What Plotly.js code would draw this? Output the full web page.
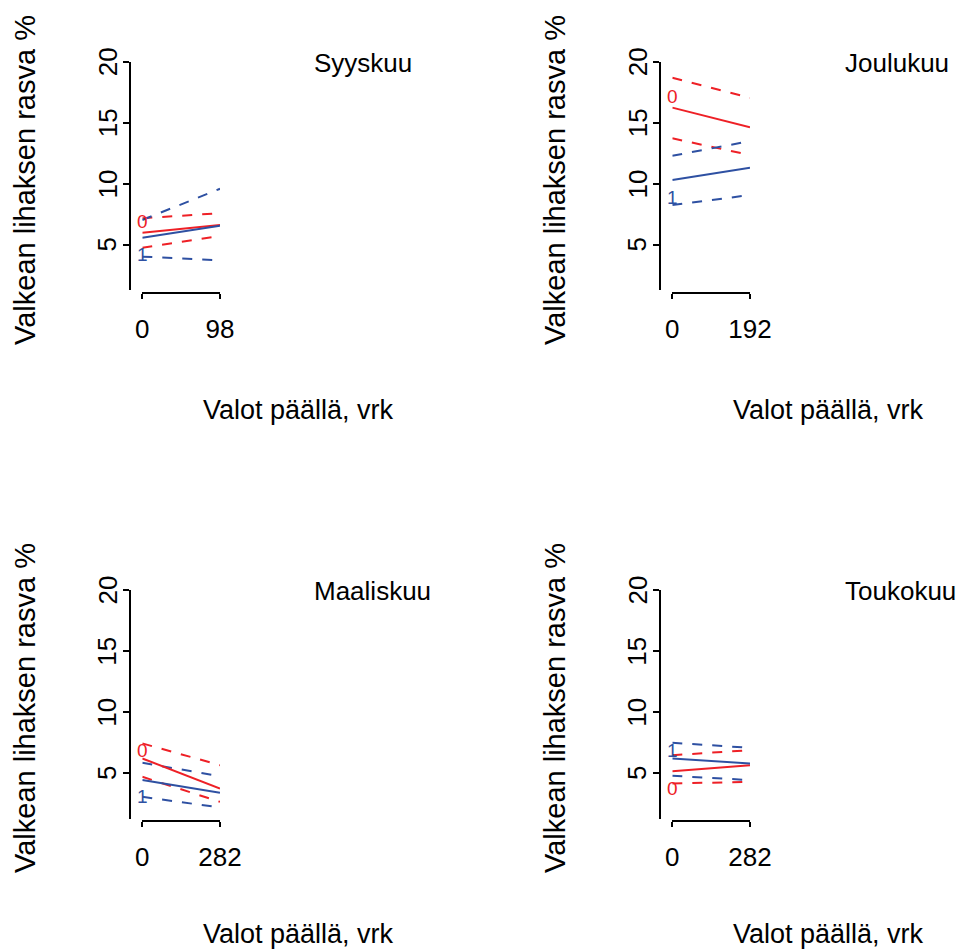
<!DOCTYPE html>
<html>
<head>
<meta charset="utf-8">
<script src="https://cdn.plot.ly/plotly-3.0.1.min.js"></script>
<style>
  html, body { margin: 0; padding: 0; background: #fff; }
  #chart { width: 960px; height: 950px; }
</style>
</head>
<body>
<div id="chart"></div>
<script>
// Months shown, one panel each
const months = ['Syyskuu', 'Joulukuu', 'Maaliskuu', 'Toukokuu'];
// Days with lights on at the end of each period
const daysEnd = [98, 192, 282, 282];

// Fitted fat % at day 0 and at the last day, group 0 (red)
const fit0 = [[6.0, 6.64], [16.24, 14.63], [6.23, 3.77], [5.19, 5.68]];
const lower0 = [[4.78, 5.74], [13.73, 12.36], [4.73, 2.68], [4.18, 4.32]];
const upper0 = [[7.2, 7.6], [18.69, 17.05], [7.46, 5.68], [6.5, 6.9]];

// Same for group 1 (blue)
const fit1 = [[5.6, 6.58], [10.32, 11.33], [4.46, 3.42], [6.23, 5.82]];
const lower1 = [[4.05, 3.75], [8.27, 9.09], [3.09, 2.22], [4.81, 4.46]];
const upper1 = [[7.05, 9.6], [12.3, 13.5], [5.87, 4.78], [7.51, 7.1]];

// Group labels placed at day 0
const label0Y = [6.77, 17.0, 6.77, 3.64];
const label1Y = [4.05, 8.74, 2.96, 6.77];

const yTicks = [5, 10, 15, 20];
const yTitle = 'Valkean lihaksen rasva %';
const xTitle = 'Valot päällä, vrk';

const RED = '#EE2026';
const BLUE = '#2E50A2';
const FONT = 'Liberation Sans, Arial, Helvetica, sans-serif';

const W = 960, H = 950;
const px = x => x / W;
const py = y => 1 - y / H;

// Panel geometry (pixels)
const colX0 = [142.3, 672.3];     // x position of day 0
const colX1 = [220, 750];         // x position of the last day
const colYAxis = [130, 660];      // vertical axis line
const rowTop = [61.7, 590];       // y position of value 20
const rowBottom = [290, 818.5];   // bottom of the vertical axis
const yMin = 1.32, yMax = 20;

const traces = [];
const layout = {
  width: W, height: H,
  margin: {l: 0, r: 0, t: 0, b: 0},
  paper_bgcolor: '#fff', plot_bgcolor: 'rgba(0,0,0,0)',
  showlegend: false,
  font: {family: FONT, color: '#000'},
  annotations: []
};

months.forEach((m, i) => {
  const col = i % 2, row = Math.floor(i / 2);
  const n = i + 1;
  const xa = 'x' + (n === 1 ? '' : n), ya = 'y' + (n === 1 ? '' : n);
  const xKey = 'xaxis' + (n === 1 ? '' : n), yKey = 'yaxis' + (n === 1 ? '' : n);
  const xs = [0, daysEnd[i]];

  layout[xKey] = {
    domain: [px(colX0[col]), px(colX1[col])],
    range: [0, daysEnd[i]],
    anchor: 'free',
    position: py(rowBottom[row] + 2.5),
    showgrid: false, zeroline: false,
    showline: true, linecolor: '#000', linewidth: 2,
    ticks: 'outside', ticklen: 5, tickwidth: 2, tickcolor: '#000',
    tickmode: 'array', tickvals: xs, ticktext: xs.map(String),
    ticklabelstandoff: 8,
    tickfont: {family: FONT, size: 26, color: '#000'},
    fixedrange: true
  };
  layout[yKey] = {
    domain: [py(rowBottom[row]), py(rowTop[row])],
    range: [yMin, yMax],
    anchor: 'free',
    position: px(colYAxis[col]),
    showgrid: false, zeroline: false,
    showline: true, linecolor: '#000', linewidth: 2,
    ticks: 'outside', ticklen: 6, tickwidth: 2, tickcolor: '#000',
    tickmode: 'array', tickvals: yTicks,
    showticklabels: false,
    fixedrange: true
  };

  // Vertical tick labels, reading bottom to top
  yTicks.forEach(v => layout.annotations.push({
    xref: 'paper', yref: ya, x: px(colYAxis[col] - 22.5), y: v,
    xanchor: 'center', yanchor: 'middle', showarrow: false, textangle: -90,
    text: String(v), font: {family: FONT, size: 26, color: '#000'}
  }));

  const line = (ys, color, dash) => traces.push({
    type: 'scatter', mode: 'lines', x: xs, y: ys,
    xaxis: xa, yaxis: ya, hoverinfo: 'skip',
    line: {color: color, width: 2, dash: dash}
  });
  line(upper0[i], RED, '10px,10px');
  line(lower0[i], RED, '10px,10px');
  line(upper1[i], BLUE, '10px,10px');
  line(lower1[i], BLUE, '10px,10px');
  line(fit0[i], RED, 'solid');
  line(fit1[i], BLUE, 'solid');

  traces.push({
    type: 'scatter', mode: 'text', x: [0, 0], y: [label0Y[i], label1Y[i]],
    text: ['0', '1'], xaxis: xa, yaxis: ya, cliponaxis: false, hoverinfo: 'skip',
    textposition: 'middle center',
    textfont: {family: FONT, size: 19, color: [RED, BLUE]}
  });

  // Month name at the top right of the panel
  layout.annotations.push({
    xref: 'paper', yref: 'paper', x: px(312 + col * 531), y: py(rowTop[row] + 1),
    xanchor: 'left', yanchor: 'middle', showarrow: false,
    text: m, font: {family: FONT, size: 26, color: '#000'}
  });
  // Vertical axis title
  layout.annotations.push({
    xref: 'paper', yref: 'paper', x: px(25 + col * 530), y: py(180 + row * 528),
    xanchor: 'center', yanchor: 'middle', showarrow: false, textangle: -90,
    text: yTitle, font: {family: FONT, size: 29, color: '#000'}
  });
  // Horizontal axis title
  layout.annotations.push({
    xref: 'paper', yref: 'paper', x: px(298 + col * 530), y: py(410 + row * 524),
    xanchor: 'center', yanchor: 'middle', showarrow: false,
    text: xTitle, font: {family: FONT, size: 27, color: '#000'}
  });
});

Plotly.newPlot('chart', traces, layout, {staticPlot: true, displayModeBar: false});
</script>
</body>
</html>
